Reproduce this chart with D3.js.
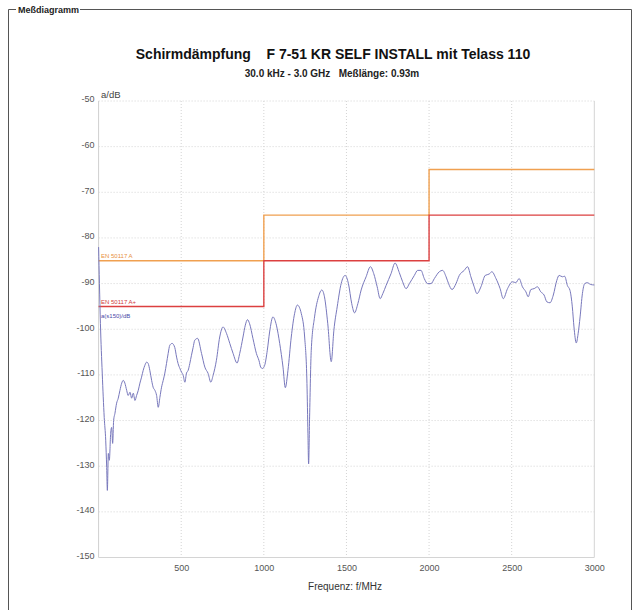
<!DOCTYPE html>
<html>
<head>
<meta charset="utf-8">
<script src="https://cdn.jsdelivr.net/npm/d3@7"></script>
<style>
  body { margin: 0; background: #fff; }
  text { font-family: "Liberation Sans", Arial, sans-serif; }
</style>
</head>
<body>
<div id="chart"></div>
<script>
// limit lines (step after each frequency)
const limitFreqs = [0, 1000, 2000, 3000];
const limitA = [-85, -75, -65, -65];
const limitAPlus = [-95, -85, -75, -75];

const traceFreqs = [0.03, 5, 11, 22, 34, 43, 49, 53, 59, 65, 73, 79, 85, 91, 99, 109, 119, 129, 140, 149,
  159, 170, 179, 190, 200, 210, 220, 230, 240, 250, 260, 270, 280, 291, 300, 310, 321, 330, 341, 351,
  361, 371, 381, 391, 401, 411, 421, 431, 445, 461, 472, 481, 492, 502, 512, 522, 532, 542, 552, 562,
  572, 582, 599, 623, 643, 663, 679, 693, 713, 733, 753, 774, 794, 814, 838, 854, 874, 888, 901, 914,
  934, 955, 971, 981, 991, 1005, 1021, 1035, 1055, 1076, 1096, 1116, 1130, 1146, 1166, 1186, 1203, 1227, 1247, 1261,
  1267, 1271, 1277, 1287, 1307, 1331, 1351, 1367, 1387, 1408, 1424, 1444, 1468, 1492, 1512, 1532, 1549, 1569, 1589, 1619,
  1645, 1665, 1686, 1704, 1720, 1740, 1770, 1794, 1820, 1840, 1861, 1881, 1911, 1931, 1951, 1971, 1991, 2012, 2032, 2062,
  2082, 2103, 2118, 2139, 2163, 2183, 2213, 2233, 2253, 2273, 2290, 2314, 2340, 2364, 2380, 2405, 2430, 2449, 2475, 2505,
  2525, 2545, 2565, 2586, 2600, 2616, 2636, 2656, 2676, 2696, 2713, 2732, 2752, 2773, 2787, 2807, 2821, 2837, 2853, 2867,
  2877, 2891, 2902, 2914, 2928, 2942, 2958, 2978, 3000];
const traceValues = [-82, -90, -98.7, -109.6, -119.3, -124.3, -130.3, -135.3, -127.2, -128.7, -122.8, -121.5, -125, -120, -118.4, -116.2, -115.1, -113.4, -111.8, -111.2,
  -111.8, -113.4, -114.5, -113.8, -115.1, -114, -115.6, -114.5, -113.4, -111.8, -110.5, -109, -107.9, -107.2, -107.5, -109, -111.2, -112.7, -113.4, -114.5,
  -117.1, -114.9, -112.7, -111.2, -109.6, -107.5, -105.3, -103.5, -103.1, -104, -106.1, -107.5, -108.6, -109.4, -110.1, -111.6, -109.6, -109, -107.5, -105.7,
  -104, -102.4, -102, -105.3, -108.3, -109.7, -111.6, -110.1, -106.8, -101.7, -99.5, -100.9, -103.1, -105.3, -107.4, -105.3, -101.7, -99.1, -97.9, -98.8,
  -102, -105.3, -106.9, -108.3, -108.6, -107.9, -104.6, -100.6, -97.3, -99.1, -103.1, -108.3, -112.8, -109, -101.7, -96.6, -94.7, -96.6, -101.7, -111.9,
  -122.9, -129.5, -119.2, -104.6, -97.3, -92.9, -91.4, -92.9, -98.8, -107.1, -100.2, -95.1, -90, -88.2, -90, -94.4, -96.4, -94.4, -91.4, -88.5,
  -86.3, -87.8, -90.7, -93.3, -92.2, -90.4, -87.8, -85.5, -87.6, -89.6, -91.1, -90, -88.2, -87.1, -87.1, -88.9, -90, -90, -88.9, -87.4,
  -87.1, -88.5, -90, -91.3, -90, -88.2, -87.1, -86.3, -88.5, -90.7, -92.2, -90.7, -88.2, -87.9, -87.4, -88.9, -91.1, -93.3, -91.1, -89.6,
  -89.8, -88.9, -90.7, -91.8, -92.9, -91.3, -91.1, -90.7, -91.8, -92.5, -94, -94.2, -92.5, -89.3, -88.2, -88.5, -88.4, -90.4, -91.5, -95.1,
  -99.5, -103, -101, -97.3, -92.2, -90, -89.8, -90.2, -90.3];

const xTicks = [500, 1000, 1500, 2000, 2500, 3000];
const yTicks = [-50, -60, -70, -80, -90, -100, -110, -120, -130, -140, -150];

const width = 640;
const height = 610;
const plotLeft = 98.6, plotRight = 594.3, plotTop = 101, plotBottom = 557.5;

const svg = d3.select("#chart").append("svg")
  .attr("width", width)
  .attr("height", height);

// group frame "Meßdiagramm"
svg.append("path")
  .attr("d", "M16,9.5 H8.5 V615 M80,9.5 H631.5 V615")
  .attr("fill", "none")
  .attr("stroke", "#555")
  .attr("stroke-width", 1);
svg.append("text")
  .attr("x", 18).attr("y", 13)
  .style("font-size", "9px").style("font-weight", "bold")
  .attr("fill", "#222")
  .text("Meßdiagramm");

// titles
svg.append("text")
  .attr("x", 333).attr("y", 59)
  .attr("text-anchor", "middle")
  .style("font-size", "14px").style("font-weight", "bold")
  .style("white-space", "pre")
  .attr("fill", "#111")
  .text("Schirmdämpfung    F 7-51 KR SELF INSTALL mit Telass 110");
svg.append("text")
  .attr("x", 332).attr("y", 77)
  .attr("text-anchor", "middle")
  .style("font-size", "10px").style("font-weight", "bold")
  .style("white-space", "pre")
  .attr("fill", "#222")
  .text("30.0 kHz - 3.0 GHz   Meßlänge: 0.93m");

const xScale = d3.scaleLinear().domain([0, 3000]).range([plotLeft, plotRight]);
const yScale = d3.scaleLinear().domain([-150, -50]).range([plotBottom, plotTop]);

// grid
svg.append("g")
  .selectAll("line")
  .data(xTicks)
  .enter().append("line")
  .attr("x1", d => xScale(d)).attr("x2", d => xScale(d))
  .attr("y1", plotTop).attr("y2", plotBottom)
  .attr("stroke", "#d4d4d4")
  .attr("stroke-dasharray", d => d === 3000 ? null : "1,2");
svg.append("g")
  .selectAll("line")
  .data(yTicks)
  .enter().append("line")
  .attr("x1", plotLeft).attr("x2", plotRight)
  .attr("y1", d => yScale(d)).attr("y2", d => yScale(d))
  .attr("stroke", "#d4d4d4")
  .attr("stroke-dasharray", d => d === -150 ? null : "1,2");
svg.append("line")
  .attr("x1", plotLeft).attr("x2", plotLeft)
  .attr("y1", plotTop).attr("y2", plotBottom)
  .attr("stroke", "#cfcfcf");

// axes (labels only), plain "-50" and "1000" formatting
const xAxis = d3.axisBottom(xScale).tickValues(xTicks).tickFormat(d => String(d)).tickSize(0).tickPadding(7);
const yAxis = d3.axisLeft(yScale).tickValues(yTicks).tickFormat(d => String(d)).tickSize(0).tickPadding(4);
const gx = svg.append("g").attr("transform", `translate(0, ${plotBottom})`).call(xAxis);
const gy = svg.append("g").attr("transform", `translate(${plotLeft}, 0)`).call(yAxis);
[gx, gy].forEach(g => {
  g.select(".domain").remove();
  g.selectAll("text")
    .style("font-family", "'Liberation Sans', Arial, sans-serif")
    .style("font-size", "9px")
    .attr("fill", "#555");
});
gy.selectAll("text").attr("dy", "0.1em");

svg.append("text")
  .attr("x", 101).attr("y", 98)
  .style("font-size", "9.5px")
  .attr("fill", "#444")
  .text("a/dB");
svg.append("text")
  .attr("x", 345).attr("y", 590)
  .attr("text-anchor", "middle")
  .style("font-size", "10px")
  .attr("fill", "#333")
  .text("Frequenz: f/MHz");

// limit lines
const stepLine = d3.line()
  .x((d, i) => xScale(limitFreqs[i]))
  .y(d => yScale(d))
  .curve(d3.curveStepAfter);

svg.append("path")
  .attr("d", stepLine(limitA))
  .attr("fill", "none")
  .attr("stroke", "#f0a050")
  .attr("stroke-width", 1.4);
svg.append("path")
  .attr("d", stepLine(limitAPlus))
  .attr("fill", "none")
  .attr("stroke", "#dc4040")
  .attr("stroke-width", 1.4);

// trace
const traceLine = d3.line()
  .x((d, i) => xScale(traceFreqs[i]))
  .y(d => yScale(d))
  .curve(d3.curveMonotoneX);

svg.append("path")
  .attr("d", traceLine(traceValues))
  .attr("fill", "none")
  .attr("stroke", "#7878bc")
  .attr("stroke-width", 1);

// series labels
svg.append("text")
  .attr("x", 101).attr("y", yScale(limitA[0]) - 2.5)
  .style("font-size", "6px")
  .attr("fill", "#e89040")
  .text("EN 50117 A");
svg.append("text")
  .attr("x", 101).attr("y", yScale(limitAPlus[0]) - 2.5)
  .style("font-size", "6px")
  .attr("fill", "#d03a3a")
  .text("EN 50117 A+");
svg.append("text")
  .attr("x", 101).attr("y", yScale(limitAPlus[0]) + 12)
  .style("font-size", "6px")
  .attr("fill", "#4a4aa8")
  .text("a(s150)/dB");
</script>
</body>
</html>
